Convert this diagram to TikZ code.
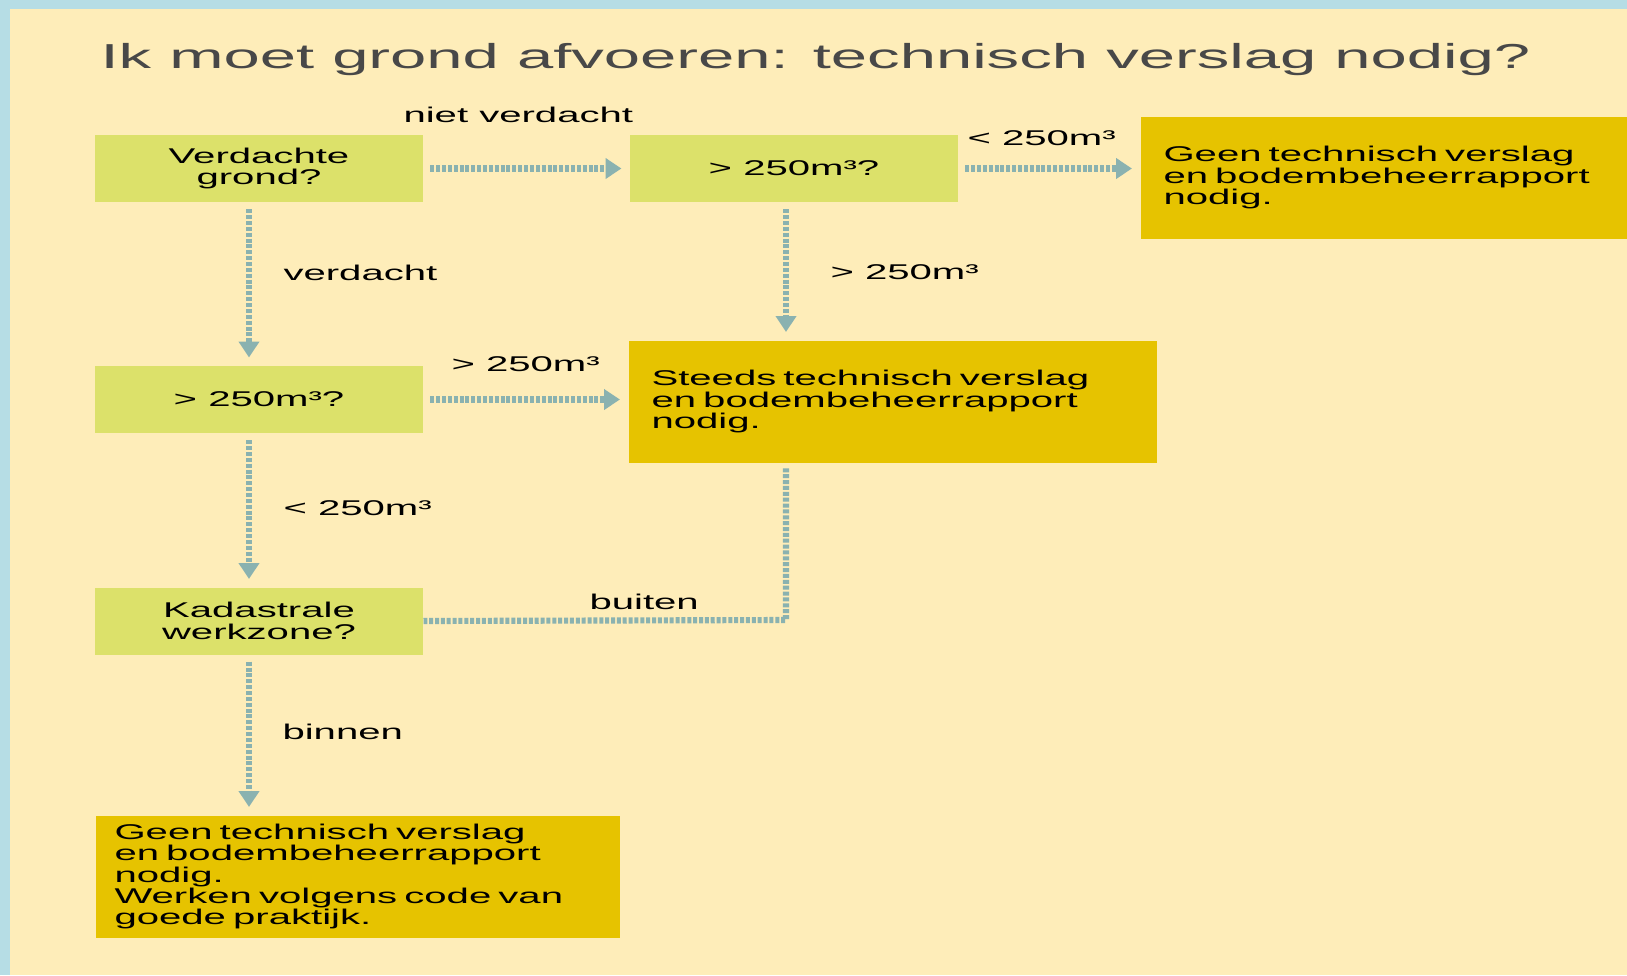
\documentclass[tikz,border=0pt]{standalone}
\usepackage{fontspec}
\setmainfont{Liberation Sans}[FakeStretch=1.88]
\usetikzlibrary{arrows.meta}

\definecolor{randblauw}{RGB}{182,221,229}
\definecolor{papier}{RGB}{254,237,185}
\definecolor{vraaggroen}{RGB}{220,225,106}
\definecolor{besluitgoud}{RGB}{230,195,0}
\definecolor{pijlkleur}{RGB}{138,178,176}
\definecolor{titelgrijs}{RGB}{72,72,72}

\newcommand\vakfont{\fontsize{16}{16}\selectfont}

\tikzset{every picture/.style={line width=0.75pt}}

\begin{document}
\begin{tikzpicture}[x=0.75pt,y=0.75pt,yscale=-1,xscale=1,
  vraag/.style={fill=vraaggroen, minimum width=246pt, minimum height=50.25pt, inner sep=0pt, align=center, font=\vakfont},
  besluit/.style={fill=besluitgoud, anchor=north west, minimum height=91.5pt, inner xsep=17.25pt, inner ysep=0pt, align=left, font=\vakfont},
  tekst/.style={anchor=base west, inner sep=0pt, font=\vakfont},
  stroom/.style={draw=pijlkleur, line width=4.6pt, dash pattern=on 3pt off 1.4pt, -{Triangle[length=12pt,width=15pt]}, shorten <=5pt, shorten >=6pt},
  stroomlijn/.style={draw=pijlkleur, line width=4.6pt, dash pattern=on 3pt off 1.4pt, shorten <=4pt}]
\useasboundingbox (0,0) rectangle (1627,975);

%Shape: Rectangle (frame and paper)
\fill [randblauw] (0,0) rectangle (1627,975);
\fill [papier] (10,9) rectangle (1627,975);

% Text Node
\node [tekst, font=\fontsize{26}{26}\selectfont, text=titelgrijs] (titel) at (100,68) {Ik moet grond afvoeren: technisch verslag nodig?};

%Shape: questions
\node [vraag] (verdacht) at (259,168.5) {Verdachte\\grond?};
\node [vraag] (volume1) at (794,168.5) {> 250m³?};
\node [vraag] (volume2) at (259,399.5) {> 250m³?};
\node [vraag] (werkzone) at (259,621) {Kadastrale\\werkzone?};

%Shape: decisions
\node [besluit, text width=355.5pt] (geen1) at (1140,116) {Geen technisch verslag\\en bodembeheerrapport\\nodig.};
\node [besluit, text width=361.5pt] (steeds) at (628,340) {Steeds technisch verslag\\en bodembeheerrapport\\nodig.};
\node [besluit, text width=364.5pt, inner xsep=14.25pt] (geen2) at (95,815) {Geen technisch verslag\\en bodembeheerrapport\\nodig.\\Werken volgens code van\\goede praktijk.};

%Straight Lines
\draw [stroom] (verdacht.east) -- (volume1.west);
\draw [stroom] (volume1.east) -- (volume1.east -| geen1.west);
\draw [stroom] ([xshift=-7.5pt]verdacht.south) -- ([xshift=-7.5pt]volume2.north);
\draw [stroom] ([xshift=-6pt]volume1.south) -- ([xshift=-6pt]volume1.south |- steeds.north);
\draw [stroom] (volume2.east) -- (volume2.east -| steeds.west);
\draw [stroom] ([xshift=-7.5pt]volume2.south) -- ([xshift=-7.5pt]werkzone.north);
\draw [stroom] ([xshift=-7.5pt]werkzone.south) -- ([xshift=-7.5pt]werkzone.south |- geen2.north);
\coordinate (buitenhoek) at (786,620);
\draw [stroomlijn] (buitenhoek |- steeds.south) -- (buitenhoek) -- (werkzone.east);

% Text Node
\node [tekst] (lniet) at (403,122) {niet verdacht};
% Text Node
\node [tekst] (lklein1) at (967,145) {< 250m³};
% Text Node
\node [tekst] (lverdacht) at (283,280) {verdacht};
% Text Node
\node [tekst] (lgroot1) at (830,279) {> 250m³};
% Text Node
\node [tekst] (lgroot2) at (451,371) {> 250m³};
% Text Node
\node [tekst] (lklein2) at (283,515) {< 250m³};
% Text Node
\node [tekst] (lbuiten) at (589,609) {buiten};
% Text Node
\node [tekst] (lbinnen) at (282,739) {binnen};
\end{tikzpicture}
\end{document}
